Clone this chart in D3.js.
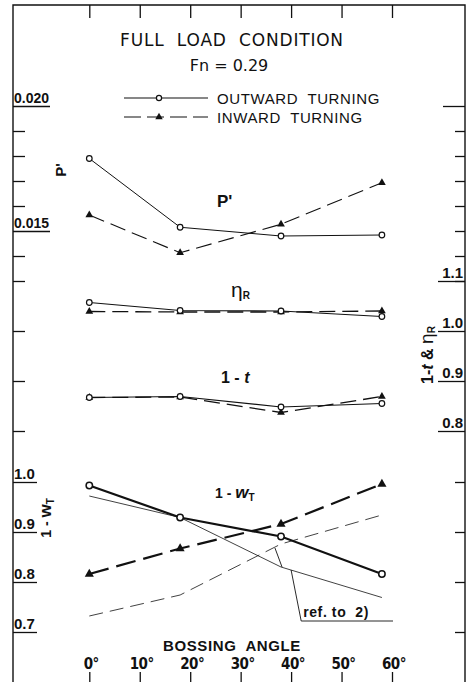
<!DOCTYPE html>
<html>
<head>
<meta charset="utf-8">
<script src="https://cdn.jsdelivr.net/npm/d3@7"></script>
<style>
    body { margin: 0; background: #fff; }
    svg text { fill: #111; }
    .ttl { font-family: "DejaVu Sans", sans-serif; }
    .lab { font-family: "Liberation Sans", Arial, sans-serif; font-weight: bold; }
    .tick line { stroke: #111; stroke-width: 1.3px; }
</style>
</head>
<body>
<svg id="chart" width="470" height="682"></svg>
<script>
// bossing angle (deg)
let angles = [0, 18, 38, 58];
let angleTicks = [0, 10, 20, 30, 40, 50, 60];

// P'
let pOut = [0.0179, 0.01515, 0.0148, 0.01484];
let pIn = [0.01564, 0.01413, 0.01527, 0.01693];
// eta R
let etaOut = [1.057, 1.041, 1.040, 1.029];
let etaIn = [1.039, 1.038, 1.038, 1.040];
// 1 - t
let tOut = [0.867, 0.869, 0.848, 0.855];
let tIn = [0.867, 0.868, 0.837, 0.869];
// 1 - wT
let wOut = [0.993, 0.929, 0.891, 0.816];
let wIn = [0.816, 0.867, 0.916, 0.996];
// 1 - wT, ref. to 2)
let wRefOut = [0.972, 0.929, 0.830, 0.769];
let wRefIn = [0.732, 0.774, 0.876, 0.934];

// axis ticks
let pTicks = [0.013, 0.014, 0.015, 0.016, 0.017, 0.018, 0.019, 0.020];
let pLabels = [0.020, 0.015];
let rTicks = [0.8, 0.9, 1.0, 1.1];
let wTicks = [0.7, 0.8, 0.9, 1.0];

// leader for "ref. to 2)" in (angle, 1-wT)
let refLeader = [[60.2, 0.722], [42.0, 0.722], [40.0, 0.824]];
let refLeader2 = [[38.2, 0.830], [36.8, 0.868]];

let frameL = 13, frameR = 465, frameT = 5, frameB = 700;

let svg = d3.select("#chart");

let x = d3.scaleLinear().domain([0, 60]).range([89.3, 392]);
let yP = d3.scaleLinear().domain([0.013, 0.020]).range([281, 106]);
let yR = d3.scaleLinear().domain([0.8, 1.1]).range([431, 281]);
let yW = d3.scaleLinear().domain([0.7, 1.0]).range([632, 482]);

// Frame
svg.append("path")
    .attr("d", "M" + frameL + "," + frameB + "V" + frameT + "H" + frameR + "V" + frameB)
    .attr("fill", "none")
    .attr("stroke", "#111")
    .attr("stroke-width", 1.4);

// Top and bottom angle ticks
svg.append("g")
    .attr("transform", "translate(0," + frameT + ")")
    .call(d3.axisBottom(x).tickValues(angleTicks).tickSize(13).tickFormat(""))
    .call(g => g.select(".domain").remove());

svg.append("g")
    .attr("transform", "translate(0,682)")
    .call(d3.axisTop(x).tickValues(angleTicks).tickSize(10).tickFormat(""))
    .call(g => g.select(".domain").remove());

svg.append("g")
    .selectAll("text")
    .data(angleTicks)
    .join("text")
    .attr("class", "lab")
    .attr("x", d => x(d) + 2)
    .attr("y", 669)
    .attr("text-anchor", "middle")
    .style("font-family", "'DejaVu Sans Condensed', 'Liberation Sans Narrow', sans-serif")
    .style("font-size", "15px")
    .style("letter-spacing", "-0.5px")
    .text(d => d + "°");

svg.append("text")
    .attr("class", "lab")
    .attr("x", 232)
    .attr("y", 651)
    .attr("text-anchor", "middle")
    .style("font-size", "15px")
    .style("letter-spacing", "0.6px")
    .style("white-space", "pre")
    .text("BOSSING  ANGLE");

// Side ticks, labelled ones drawn long as an underline
function sideAxis(axisFn, scale, vals, size, xPos, labelFmt, fontSize) {
    let g = svg.append("g")
        .attr("transform", "translate(" + xPos + ",0)")
        .call(axisFn(scale).tickValues(vals).tickSize(size).tickFormat(labelFmt || ""));
    g.select(".domain").remove();
    g.selectAll("text")
        .attr("class", "lab")
        .attr("x", axisFn === d3.axisRight ? 1 : -2)
        .attr("dy", "-0.25em")
        .style("font-size", fontSize + "px")
        .attr("fill", "#111");
    return g;
}

// Left side
sideAxis(d3.axisRight, yP, pTicks.filter(d => !pLabels.includes(d)), 12, frameL);
sideAxis(d3.axisRight, yP, pLabels, 37, frameL, d3.format(".3f"), 14);
sideAxis(d3.axisRight, yR, [0.8, 0.9, 1.0], 12, frameL);
sideAxis(d3.axisRight, yW, wTicks, 24, frameL, d3.format(".1f"), 15);

// Right side
sideAxis(d3.axisLeft, yP, pTicks.filter(d => d < 0.020), 10, frameR);
sideAxis(d3.axisLeft, yP, [0.020], 22, frameR);
sideAxis(d3.axisLeft, yR, rTicks, 27, frameR, d3.format(".1f"), 15);
sideAxis(d3.axisLeft, yW, wTicks, 10, frameR);

// Series
function drawLine(vals, scale, width, dash) {
    svg.append("path")
        .datum(vals)
        .attr("fill", "none")
        .attr("stroke", "#111")
        .attr("stroke-width", width)
        .attr("stroke-dasharray", dash)
        .attr("d", d3.line().x((d, i) => x(angles[i])).y(d => scale(d)));
}

function drawTriangles(vals, scale, size) {
    svg.append("g")
        .selectAll("path")
        .data(vals)
        .join("path")
        .attr("transform", (d, i) => "translate(" + x(angles[i]) + "," + scale(d) + ")")
        .attr("d", d3.symbol(d3.symbolTriangle, size))
        .attr("fill", "#111");
}

function drawCircles(vals, scale, r, width) {
    svg.append("g")
        .selectAll("circle")
        .data(vals)
        .join("circle")
        .attr("cx", (d, i) => x(angles[i]))
        .attr("cy", d => scale(d))
        .attr("r", r)
        .attr("fill", "#fff")
        .attr("stroke", "#111")
        .attr("stroke-width", width);
}

// ref. to 2)
drawLine(wRefOut, yW, 0.8, null);
drawLine(wRefIn, yW, 0.8, "14,7");
[refLeader, refLeader2].forEach(l => {
    svg.append("path")
        .datum(l)
        .attr("fill", "none")
        .attr("stroke", "#111")
        .attr("stroke-width", 0.9)
        .attr("d", d3.line().x(d => x(d[0])).y(d => yW(d[1])));
});
svg.append("text")
    .attr("class", "lab")
    .attr("x", x(refLeader[1][0]) + 2)
    .attr("y", yW(refLeader[1][1]) - 4)
    .style("font-size", "14px")
    .style("letter-spacing", "0.6px")
    .style("white-space", "pre")
    .text("ref. to  2)");

drawLine(pIn, yP, 1.1, "16,7");
drawTriangles(pIn, yP, 26);
drawLine(pOut, yP, 1, null);
drawCircles(pOut, yP, 2.8, 1.2);

drawLine(etaIn, yR, 1.3, "16,7");
drawTriangles(etaIn, yR, 26);
drawLine(etaOut, yR, 1.2, null);
drawCircles(etaOut, yR, 2.8, 1.2);

drawLine(tIn, yR, 1.3, "16,7");
drawTriangles(tIn, yR, 26);
drawLine(tOut, yR, 1.2, null);
drawCircles(tOut, yR, 2.8, 1.2);

drawLine(wIn, yW, 2.2, "20,8");
drawTriangles(wIn, yW, 36);
drawLine(wOut, yW, 2.2, null);
drawCircles(wOut, yW, 3.2, 1.5);

// Title and legend
svg.append("text")
    .attr("class", "ttl")
    .attr("x", 232)
    .attr("y", 46)
    .attr("text-anchor", "middle")
    .style("font-size", "17px")
    .style("letter-spacing", "0.8px")
    .style("white-space", "pre")
    .text("FULL  LOAD  CONDITION");

svg.append("text")
    .attr("class", "ttl")
    .attr("x", 229)
    .attr("y", 71)
    .attr("text-anchor", "middle")
    .style("font-size", "16px")
    .text("Fn = 0.29");

let legend = [
    {name: "OUTWARD  TURNING", y: 98, dash: null},
    {name: "INWARD  TURNING", y: 117, dash: "17,6"}
];
legend.forEach((d, i) => {
    svg.append("line")
        .attr("x1", 124).attr("x2", 208)
        .attr("y1", d.y).attr("y2", d.y)
        .attr("stroke", "#111")
        .attr("stroke-width", 1.2)
        .attr("stroke-dasharray", d.dash);
    if (i === 0) {
        svg.append("circle").attr("cx", 159).attr("cy", d.y).attr("r", 2.6)
            .attr("fill", "#fff").attr("stroke", "#111").attr("stroke-width", 1.2);
    } else {
        svg.append("path").attr("transform", "translate(159," + d.y + ")")
            .attr("d", d3.symbol(d3.symbolTriangle, 24)).attr("fill", "#111");
    }
    svg.append("text")
        .attr("class", "lab")
        .attr("x", 217)
        .attr("y", d.y + 6)
        .style("font-size", "15px")
        .style("font-weight", "normal")
        .style("letter-spacing", "0.6px")
        .style("white-space", "pre")
        .text(d.name);
});

// Curve labels
let curveLabels = [
    {x: 217, y: 207, size: 17, html: "P'"},
    {x: 221, y: 383, size: 16, html: "1 - <tspan font-style='italic'>t</tspan>"},
    {x: 215, y: 498, size: 14, html: "1 - <tspan font-style='italic' font-size='17px'>w</tspan><tspan font-size='10px' dy='3'>T</tspan>"}
];
curveLabels.forEach(d => {
    svg.append("text")
        .attr("class", "lab")
        .attr("x", d.x)
        .attr("y", d.y)
        .style("font-size", d.size + "px")
        .style("white-space", "pre")
        .html(d.html);
});
svg.append("text")
    .attr("class", "lab")
    .attr("x", 231)
    .attr("y", 297)
    .style("font-size", "21px")
    .style("font-weight", "normal")
    .html("η<tspan font-size='10px' font-weight='bold' dy='2'>R</tspan>");

// Rotated axis titles
let sideTitles = [
    {x: 66, y: 170, size: 15, html: "P'"},
    {x: 51, y: 518, size: 14, html: "1 - <tspan font-size='17px'>w</tspan><tspan font-size='10px' dy='3'>T</tspan>"},
    {x: 433, y: 355, size: 16, html: "1-<tspan font-style='italic'>t</tspan> &amp; <tspan font-size='19px' font-weight='normal'>η</tspan><tspan font-size='10px' dy='2'>R</tspan>"}
];
sideTitles.forEach(d => {
    svg.append("text")
        .attr("class", "lab")
        .attr("transform", "translate(" + d.x + "," + d.y + ") rotate(-90)")
        .attr("text-anchor", "middle")
        .style("font-size", d.size + "px")
        .style("white-space", "pre")
        .html(d.html);
});
</script>
</body>
</html>
